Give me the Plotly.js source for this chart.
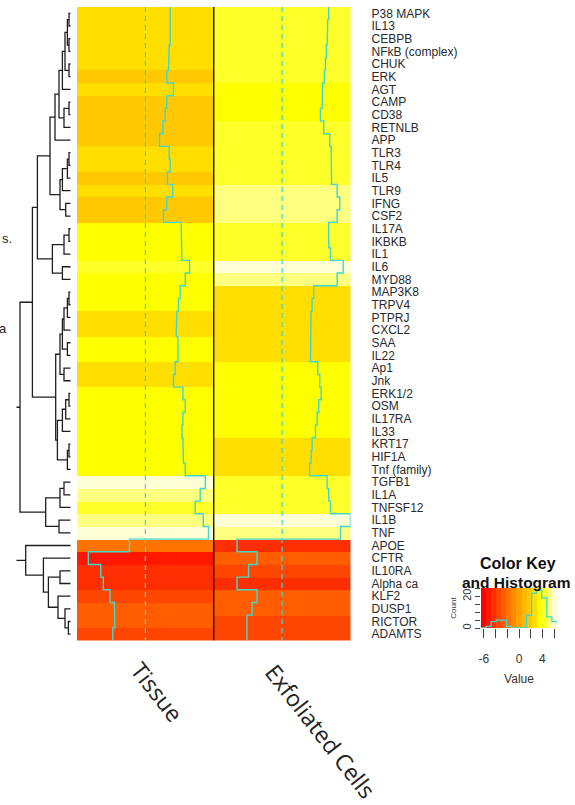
<!DOCTYPE html>
<html>
<head>
<meta charset="utf-8">
<script src="https://cdn.plot.ly/plotly-3.0.1.min.js"></script>
<style>
  html, body { margin: 0; padding: 0; background: #fff; overflow: hidden; }
  #chart { width: 575px; height: 805px; }
</style>
</head>
<body>
<div id="chart"></div>
<script>
// ---- data -------------------------------------------------------------
const genes = ['P38 MAPK','IL13','CEBPB','NFkB (complex)','CHUK','ERK','AGT','CAMP','CD38','RETNLB',
  'APP','TLR3','TLR4','IL5','TLR9','IFNG','CSF2','IL17A','IKBKB','IL1',
  'IL6','MYD88','MAP3K8','TRPV4','PTPRJ','CXCL2','SAA','IL22','Ap1','Jnk',
  'ERK1/2','OSM','IL17RA','IL33','KRT17','HIF1A','Tnf (family)','TGFB1','IL1A','TNFSF12',
  'IL1B','TNF','APOE','CFTR','IL10RA','Alpha ca','KLF2','DUSP1','RICTOR','ADAMTS'];

const samples = ['Tissue', 'Exfoliated Cells'];

const tissue = [2.36, 2.42, 2.36, 2.26, 2.20, 2.04, 2.67, 2.04, 1.88, 1.66,
  1.34, 2.26, 2.36, 2.10, 2.61, 2.04, 1.72, 3.40, 3.40, 3.47,
  4.20, 3.79, 3.31, 3.15, 3.00, 2.93, 3.10, 3.10, 2.83, 2.67,
  3.57, 3.79, 3.57, 3.47, 3.57, 3.62, 3.79, 5.70, 5.21, 4.74,
  5.50, 6.00, -1.52, -5.42, -4.24, -4.00, -3.36, -2.95, -2.90, -3.10];

const exfoliated = [4.43, 4.34, 4.28, 4.21, 4.12, 4.02, 3.85, 3.81, 3.64, 3.96,
  4.53, 4.66, 4.72, 4.70, 5.23, 5.48, 5.23, 4.43, 4.43, 4.60,
  5.80, 5.23, 3.00, 2.85, 2.76, 2.69, 2.69, 2.69, 3.39, 3.58,
  3.71, 3.48, 3.33, 3.17, 2.85, 2.76, 2.62, 4.28, 4.43, 4.60,
  6.50, 5.55, -4.29, -2.39, -3.19, -4.29, -2.39, -2.86, -3.34, -3.34];

// Row clustering: [left, right, height]; negative = leaf (row number, 1-based),
// positive = earlier merge (1-based)
const rowMerges = [
  [-1, -2, 1.7], [-3, -4, 1.7], [1, 2, 3.3], [-5, -6, 1.7], [3, 4, 5.7],
  [5, -7, 8.3], [-8, -9, 1.7], [7, -10, 6.7], [6, 8, 11.7], [9, -11, 15.7],
  [-12, -13, 1.7], [11, -14, 3.3], [12, -15, 8.3], [-16, -17, 5.0], [13, 14, 10.7],
  [10, 15, 20.7], [-18, -19, 1.7], [17, -20, 6.7], [-21, -22, 8.3], [18, 19, 18.3],
  [16, 20, 33.3], [-23, -24, 1.7], [22, -25, 3.3], [23, -26, 6.7], [-27, -28, 3.3],
  [24, 25, 8.3], [-29, -30, 6.7], [26, 27, 10.7], [-31, -32, 1.7], [29, -33, 5.0],
  [30, -34, 8.3], [-35, -36, 1.7], [32, -37, 3.3], [31, 33, 13.3], [28, 34, 15.0],
  [21, 35, 38.3], [-38, -39, 6.7], [37, -40, 10.7], [-41, -42, 11.7], [38, 39, 25.0],
  [36, 40, 50.7], [-45, -46, 10.7], [-49, -50, 2.3], [-48, 43, 5.7], [-47, 44, 12.7],
  [42, 45, 22.3], [-44, 46, 27.3], [-43, 47, 45.0], [41, 48, 80.0]
];

const keyTickVals = [-6, -4, -2, 0, 2, 4, 6];
const keyTickText = ['-6', '', '', '0', '', '4', ''];
const countLabelled = [0, 20];

// ---- styling ----------------------------------------------------------
// 15-step heat palette (red -> orange -> yellow -> pale yellow)
const palette = ['#FF0000', '#FF1700', '#FF2E00', '#FF4600', '#FF5D00',
  '#FF7400', '#FF8B00', '#FFA200', '#FFB900', '#FFC800',
  '#FFDE00', '#FFFF00', '#FFFF2A', '#FFFF80', '#FFFFD5'];
const traceColor = '#3fd8d0';
const labelFont = 'Liberation Sans, Arial, sans-serif';

// ---- helpers ----------------------------------------------------------
const W = 575, H = 805;
const fx = p => p / W;
const fy = p => 1 - p / H;
const N = genes.length;

const nCol = palette.length;
const M = Math.max(...tissue.map(Math.abs), ...exfoliated.map(Math.abs));
const breaks = Array.from({length: nCol + 1}, (_, i) => -M + 2 * M * i / nCol);
const colorscale = [];
palette.forEach((c, i) => { colorscale.push([i / nCol, c]); colorscale.push([(i + 1) / nCol, c]); });

// ---- heatmap ----------------------------------------------------------
const z = genes.map((g, i) => [tissue[i], exfoliated[i]]);
const traces = [];
traces.push({
  type: 'heatmap', x: [0, 1], y: genes.map((g, i) => i), z: z,
  colorscale: colorscale, zmin: -M, zmax: M, showscale: false,
  xaxis: 'x', yaxis: 'y', hoverinfo: 'skip'
});

// dashed reference at value 0 and the step trace per column
[tissue, exfoliated].forEach((vals, c) => {
  const zeroX = c + (0 + M) / (2 * M) - 0.5;
  traces.push({
    type: 'scatter', mode: 'lines', x: [zeroX, zeroX], y: [-0.5, N - 0.5],
    line: {color: traceColor, width: 1.2, dash: '5px,4px'},
    xaxis: 'x', yaxis: 'y', hoverinfo: 'skip'
  });
  const xs = [], ys = [];
  vals.forEach((v, r) => {
    const xv = c + (v + M) / (2 * M) - 0.5;
    xs.push(xv, xv); ys.push(r - 0.5, r + 0.5);
  });
  traces.push({
    type: 'scatter', mode: 'lines', x: xs, y: ys,
    line: {color: traceColor, width: 1.4},
    xaxis: 'x', yaxis: 'y', hoverinfo: 'skip'
  });
});
// column separator
traces.push({
  type: 'scatter', mode: 'lines', x: [0.5, 0.5], y: [-0.5, N - 0.5],
  line: {color: '#000', width: 1.3}, xaxis: 'x', yaxis: 'y', hoverinfo: 'skip'
});

// ---- row dendrogram ---------------------------------------------------
const mPos = [], mH = [];
const pos = id => id < 0 ? (-id - 1) : mPos[id - 1];
const hgt = id => id < 0 ? 0 : mH[id - 1];
const dx = [], dy = [];
rowMerges.forEach(([a, b, h]) => {
  const ya = pos(a), yb = pos(b);
  dx.push(hgt(a), h, h, hgt(b), null);
  dy.push(ya, ya, yb, yb, null);
  mPos.push((ya + yb) / 2); mH.push(h);
});
traces.push({
  type: 'scatter', mode: 'lines', x: dx, y: dy,
  line: {color: '#1e1e1e', width: 1.3}, xaxis: 'x2', yaxis: 'y2', hoverinfo: 'skip'
});

// ---- colour key with histogram ---------------------------------------
traces.push({
  type: 'heatmap', x: breaks, y: [0, 1],
  z: [breaks.slice(0, -1).map((b, i) => (b + breaks[i + 1]) / 2)],
  colorscale: colorscale, zmin: -M, zmax: M, showscale: false,
  xaxis: 'x3', yaxis: 'y3', hoverinfo: 'skip'
});
const allVals = tissue.concat(exfoliated);
const counts = new Array(nCol).fill(0);
allVals.forEach(v => {
  let k = Math.floor((v + M) / (2 * M) * nCol);
  k = Math.min(nCol - 1, Math.max(0, k));
  counts[k]++;
});
const maxC = Math.max(...counts);
traces.push({
  type: 'scatter', mode: 'lines', x: breaks, y: counts.concat([counts[nCol - 1]]),
  line: {color: traceColor, width: 1.3, shape: 'hv'},
  xaxis: 'x3', yaxis: 'y4', hoverinfo: 'skip'
});
const cStep = 5;
const countTicks = [];
for (let t = 0; t <= Math.ceil(maxC / cStep) * cStep; t += cStep) countTicks.push(t);

// ---- rotated column labels -------------------------------------------
const colFont = 'Open Sans';
const colSize = 23;
const angle = 52;
const ctx = document.createElement('canvas').getContext('2d');
ctx.font = colSize + 'px "' + colFont + '"';
const starts = [[137, 665], [271, 667]];
const colAnn = samples.map((s, i) => {
  const w = ctx.measureText(s).width;
  const a = angle * Math.PI / 180;
  const cx = starts[i][0] + w / 2 * Math.cos(a);
  const cy = starts[i][1] + w / 2 * Math.sin(a);
  return {
    text: s, xref: 'paper', yref: 'paper', x: fx(cx), y: fy(cy),
    xanchor: 'center', yanchor: 'middle', textangle: angle, showarrow: false,
    font: {family: colFont, size: colSize, color: '#222'}
  };
});

const layout = {
  width: W, height: H, margin: {l: 0, r: 0, t: 0, b: 0},
  paper_bgcolor: '#fff', plot_bgcolor: 'rgba(0,0,0,0)', showlegend: false,
  xaxis: {domain: [fx(77), fx(350.5)], range: [-0.5, 1.5], visible: false, fixedrange: true},
  yaxis: {
    domain: [fy(640.5), fy(7)], range: [N - 0.5, -0.5], anchor: 'x', side: 'right',
    tickvals: genes.map((g, i) => i), ticktext: genes, ticks: '', showgrid: false,
    zeroline: false, showline: false, ticklabelstandoff: 20,
    tickfont: {family: labelFont, size: 12, color: '#2a2a2a'}
  },
  xaxis2: {domain: [fx(16.5), fx(70.7)], range: [54.2, 0], visible: false, anchor: 'y2'},
  yaxis2: {domain: [fy(640.5), fy(7)], range: [N - 0.5, -0.5], visible: false, anchor: 'x2'},
  xaxis3: {
    domain: [fx(481), fx(557)], range: [-M, M], anchor: 'y3',
    tickvals: keyTickVals, ticktext: keyTickText, ticks: 'outside', ticklen: 9,
    tickcolor: '#444', showgrid: false, zeroline: false, showline: false,
    ticklabelstandoff: 11,
    tickfont: {family: labelFont, size: 12, color: '#333'},
    title: {text: 'Value', font: {family: labelFont, size: 12, color: '#333'}, standoff: 9}
  },
  yaxis3: {domain: [fy(628), fy(588)], range: [0, 1], visible: false, anchor: 'x3'},
  yaxis4: {
    overlaying: 'y3', anchor: 'x3', side: 'left', range: [0, maxC / 0.95],
    tickvals: countTicks, ticktext: countTicks.map(t => countLabelled.includes(t) ? String(t) : ''),
    ticks: 'outside', ticklen: 5, tickcolor: '#444', tickangle: -90,
    showgrid: false, zeroline: false, showline: false,
    tickfont: {family: labelFont, size: 11, color: '#333'},
    title: {text: 'Count', font: {family: labelFont, size: 8, color: '#333'}, standoff: 2}
  },
  annotations: [
    {text: '<b>Color Key</b>', xref: 'paper', yref: 'paper', x: fx(518), y: fy(563),
     xanchor: 'center', yanchor: 'middle', showarrow: false,
     font: {family: labelFont, size: 16, color: '#111'}},
    {text: '<b>and Histogram</b>', xref: 'paper', yref: 'paper', x: fx(573), y: fy(582),
     xanchor: 'right', yanchor: 'middle', showarrow: false,
     font: {family: labelFont, size: 15.5, color: '#111'}},
    {text: 's.', xref: 'paper', yref: 'paper', x: fx(0), y: fy(238),
     xanchor: 'left', yanchor: 'middle', showarrow: false,
     font: {family: labelFont, size: 13, color: '#222'}},
    {text: 'a', xref: 'paper', yref: 'paper', x: fx(-3), y: fy(328),
     xanchor: 'left', yanchor: 'middle', showarrow: false,
     font: {family: labelFont, size: 13, color: '#222'}}
  ].concat(colAnn)
};

Plotly.newPlot('chart', traces, layout, {staticPlot: true, displayModeBar: false});
</script>
</body>
</html>
